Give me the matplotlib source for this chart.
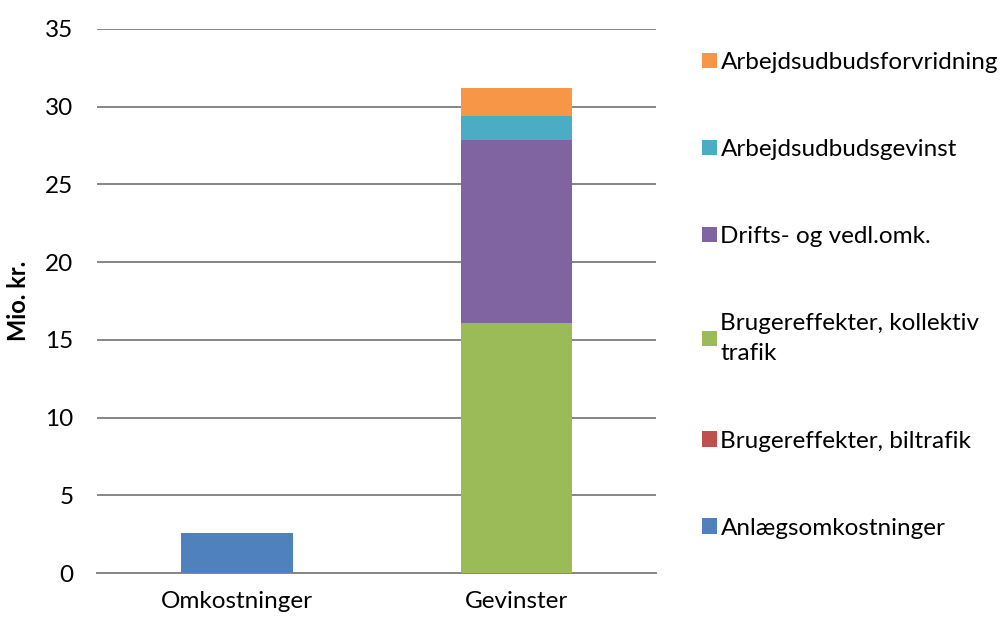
import matplotlib.pyplot as plt
import numpy as np

plt.rcParams['font.family'] = ['Lato', 'DejaVu Sans']

categories = ['Omkostninger', 'Gevinster']
series = ['Anlægsomkostninger', 'Brugereffekter, biltrafik',
          'Brugereffekter, kollektiv\ntrafik', 'Drifts- og vedl.omk.',
          'Arbejdsudbudsgevinst', 'Arbejdsudbudsforvridning']
anlaeg = [2.55, 0.0]
biltrafik = [0.0, 0.0]
kollektiv = [0.0, 16.1]
drift = [0.0, 11.75]
gevinst = [0.0, 1.57]
forvridning = [0.0, 1.79]
colors = ['#4F81BD', '#C0504D', '#9BBB59', '#8064A2', '#4BACC6', '#F79646']
yticks = [0, 5, 10, 15, 20, 25, 30, 35]

fig = plt.figure(figsize=(10.08, 6.19), dpi=100)
ax = fig.add_axes([0.0962, 0.0743, 0.555, 0.879])

x = np.arange(len(categories))
bottom = np.zeros(len(categories))
handles = []
for vals, lab, col in zip([anlaeg, biltrafik, kollektiv, drift, gevinst, forvridning], series, colors):
    b = ax.bar(x, vals, 0.4, bottom=bottom, color=col, label=lab, zorder=3)
    handles.append(b)
    bottom += np.array(vals)

ax.set_xlim(-0.5, 1.5)
ax.set_ylim(0, 35)
ax.set_yticks(yticks)
ax.set_xticks(x)
ax.set_xticklabels(categories)
ax.grid(axis='y', color='#868686', linewidth=1.4, zorder=0)
for s in ['top', 'right', 'left']:
    ax.spines[s].set_visible(False)
ax.spines['bottom'].set_color('#868686')
ax.spines['bottom'].set_linewidth(1.4)
ax.tick_params(axis='y', length=0, pad=17, labelsize=17.5)
ax.tick_params(axis='x', length=0, pad=13, labelsize=17.5)
ax.set_ylabel('Mio. kr.', fontsize=17, fontweight='bold', labelpad=11)

leg = fig.legend(handles[::-1], series[::-1], loc='upper left', bbox_to_anchor=(0.687, 0.932),
                 frameon=False, fontsize=17.5, labelspacing=2.72, handlelength=0.6,
                 handleheight=0.6, handletextpad=0.15, borderaxespad=0)
for t in leg.get_texts():
    t.set_linespacing(1.55)

fig.savefig('out.png', dpi=100)
